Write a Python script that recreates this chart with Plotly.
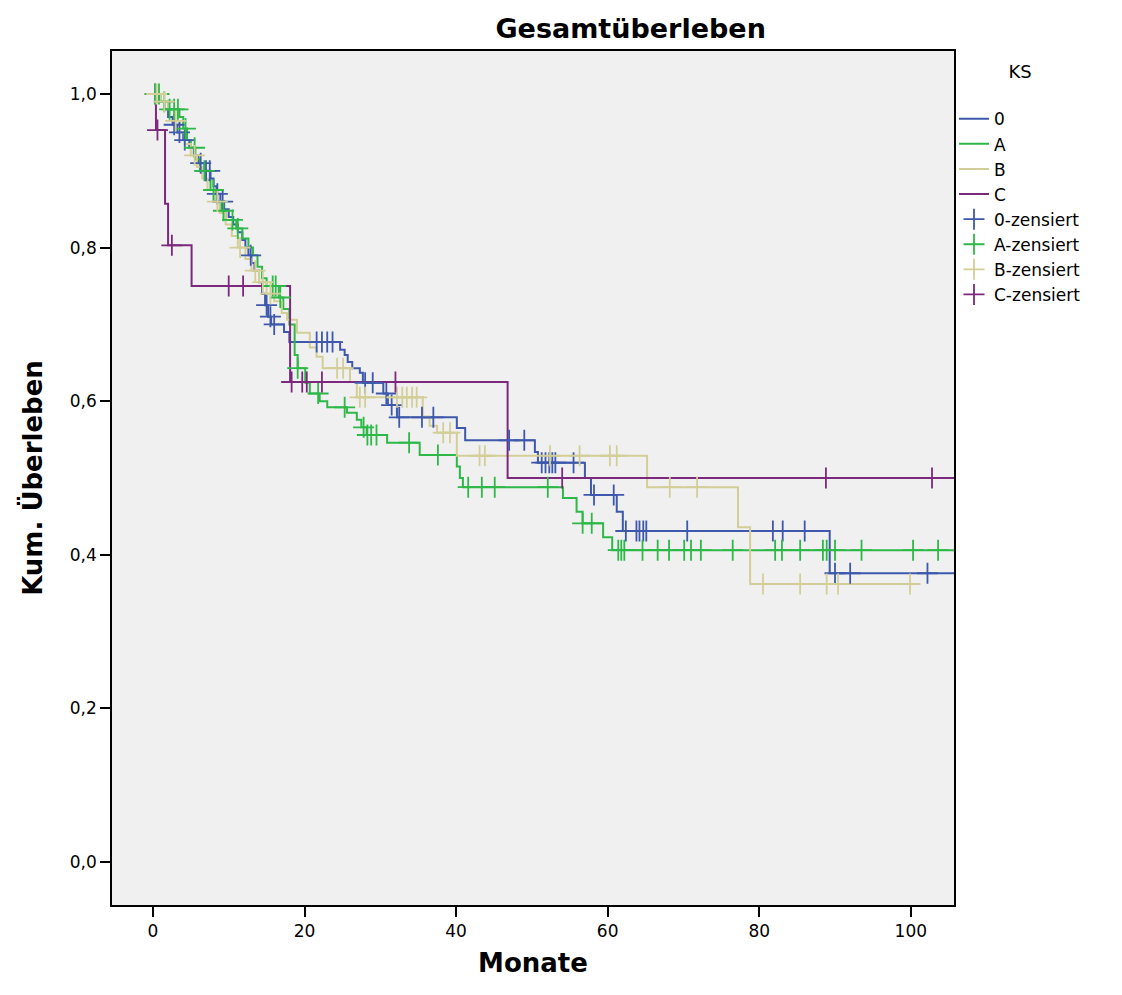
import numpy as np
import plotly.graph_objects as go

# ---- data ----
groups = ["0", "A", "B", "C"]
colors = {"0": "#3E58AC", "A": "#2EB848", "B": "#D3CE97", "C": "#7C287D"}

t_0 = [0, 0.8, 1.5, 2.0, 2.6, 3.2, 4.0, 4.8, 5.4, 6.0, 6.8, 7.6, 8.0, 8.4, 8.9, 9.4, 10.0, 10.6,
       11.2, 11.8, 12.2, 12.6, 13.0, 13.4, 14.0, 14.4, 14.8, 15.2, 15.6, 17.3, 18.0, 24.7, 25.3,
       25.7, 26.3, 27.3, 27.7, 30.4, 31.0, 32.2, 40.1, 41.2, 50.4, 50.8, 57.0, 57.8, 61.2, 62.0,
       89.3, 106]
s_0 = [1.0, 0.99, 0.98, 0.97, 0.96, 0.95, 0.94, 0.93, 0.92, 0.91, 0.90, 0.89, 0.88, 0.87, 0.86,
       0.85, 0.84, 0.83, 0.82, 0.81, 0.80, 0.79, 0.78, 0.77, 0.755, 0.74, 0.725, 0.71, 0.70, 0.69,
       0.677, 0.667, 0.660, 0.651, 0.643, 0.637, 0.624, 0.61, 0.595, 0.579, 0.565, 0.549, 0.534,
       0.520, 0.50, 0.478, 0.456, 0.431, 0.376, 0.376]
c_0 = [0.3, 2.8, 3.5, 4.2, 6.3, 7.0, 7.5, 8.5, 9.2, 12.9, 15.0, 15.5, 16.0, 21.6, 22.3, 23.0, 23.7,
       28.0, 29.0, 30.8, 31.5, 32.5, 35.5, 37.0, 47.0, 49.0, 51.3, 51.8, 52.3, 52.7, 53.1, 55.5,
       58.2, 60.8, 62.4, 63.8, 64.2, 64.7, 65.1, 70.5, 81.8, 83.1, 86.0, 90.0, 92.0, 102.2]

t_A = [0, 1.0, 2.0, 3.5, 4.0, 4.5, 5.0, 5.6, 6.2, 7.0, 7.6, 8.4, 9.0, 9.6, 11.0, 11.8, 12.6, 13.2,
       13.8, 14.4, 15.0, 16.6, 17.2, 18.0, 18.7, 19.1, 20.1, 20.7, 22.0, 23.0, 25.6, 26.9, 27.5,
       28.2, 30.9, 35.2, 40.1, 40.5, 40.9, 54.1, 55.9, 56.7, 59.4, 60.6, 106]
s_A = [1.0, 0.99, 0.98, 0.97, 0.955, 0.94, 0.93, 0.915, 0.90, 0.888, 0.875, 0.86, 0.848, 0.836,
       0.825, 0.812, 0.80, 0.79, 0.775, 0.76, 0.75, 0.735, 0.72, 0.70, 0.66, 0.643, 0.624, 0.61,
       0.60, 0.592, 0.585, 0.576, 0.566, 0.556, 0.546, 0.53, 0.515, 0.50, 0.488, 0.474, 0.456,
       0.441, 0.423, 0.406, 0.406]
c_A = [0.3, 0.8, 1.5, 2.2, 2.8, 3.3, 4.3, 5.5, 6.8, 8.0, 9.3, 10.5, 11.2, 15.8, 16.2, 16.8, 19.1,
       21.8, 25.3, 27.8, 28.3, 28.8, 29.5, 33.8, 37.6, 41.6, 43.4, 45.1, 52.1, 56.7, 57.9, 61.4,
       61.8, 62.2, 64.6, 66.6, 68.1, 70.1, 71.0, 72.3, 76.5, 82.1, 83.0, 85.4, 88.4, 88.9, 90.0,
       93.5, 100.3, 103.6]

t_B = [0, 1.0, 2.0, 2.8, 3.5, 4.2, 5.0, 5.8, 6.5, 7.2, 8.0, 8.8, 9.6, 10.4, 11.2, 12.2, 13.0, 14.0,
       15.0, 16.0, 17.0, 17.7, 19.0, 20.7, 21.6, 22.4, 26.0, 26.9, 35.6, 36.5, 37.5, 40.1, 65.2,
       77.2, 78.8, 99.9]
s_B = [1.0, 0.99, 0.98, 0.965, 0.95, 0.935, 0.92, 0.905, 0.89, 0.875, 0.86, 0.845, 0.83, 0.815,
       0.80, 0.785, 0.77, 0.755, 0.74, 0.73, 0.715, 0.706, 0.689, 0.67, 0.658, 0.643, 0.625, 0.605,
       0.58, 0.568, 0.559, 0.529, 0.488, 0.436, 0.362, 0.362]
c_B = [0.5, 1.5, 3.0, 5.5, 8.5, 11.5, 13.5, 14.5, 15.5, 24.3, 25.1, 27.3, 28.0, 32.2, 32.9, 33.5,
       34.2, 34.8, 38.3, 39.2, 43.1, 43.8, 52.4, 56.3, 60.3, 61.2, 68.2, 71.8, 80.5, 85.4, 88.9,
       90.4, 99.9]

t_C = [0, 0.4, 1.6, 2.0, 5.1, 18.1, 46.8, 106]
s_C = [1.0, 0.953, 0.857, 0.803, 0.75, 0.625, 0.50, 0.50]
c_C = [0.6, 2.5, 10.0, 11.9, 18.3, 19.7, 20.3, 22.3, 32.0, 54.0, 88.8, 102.8]

times = {"0": t_0, "A": t_A, "B": t_B, "C": t_C}
surv = {"0": s_0, "A": s_A, "B": s_B, "C": s_C}
cens = {"0": c_0, "A": c_A, "B": c_B, "C": c_C}

x_ticks = [0, 20, 40, 60, 80, 100]
y_ticks = [0.0, 0.2, 0.4, 0.6, 0.8, 1.0]

FONT = "DejaVu Sans"

fig = go.Figure()

for g in groups:
    fig.add_trace(go.Scatter(
        x=times[g], y=surv[g], mode="lines", line_shape="hv",
        line=dict(color=colors[g], width=2), name=g))

for g in groups:
    t = np.array(times[g])
    s = np.array(surv[g])
    c = np.array(cens[g])
    idx = np.searchsorted(t, c, side="right") - 1
    fig.add_trace(go.Scatter(
        x=c, y=s[idx], mode="markers", name=g + "-zensiert",
        marker=dict(symbol="cross-thin", size=15,
                    line=dict(color=colors[g], width=1.8), color=colors[g])))

fig.update_layout(
    width=1122, height=995,
    margin=dict(l=112, r=168, t=51, b=90),
    paper_bgcolor="white", plot_bgcolor="#F0F0F0",
    separators=", ",
    font=dict(family=FONT, size=15, color="black"),
    title=dict(text="<b>Gesamtüberleben</b>", x=0.616, xref="paper", xanchor="center",
               y=0.971, yref="container", yanchor="middle",
               font=dict(family=FONT, size=27, color="black")),
    legend=dict(title=dict(text="KS<br> ", side="top center",
                           font=dict(size=18, family=FONT)),
                x=1.0, xanchor="left", y=0.996, yanchor="top",
                bgcolor="rgba(0,0,0,0)", font=dict(size=17, family=FONT),
                tracegroupgap=0, itemwidth=30),
    showlegend=True,
)

fig.update_xaxes(range=[-5.4, 105.7], tickvals=x_ticks, ticks="outside", ticklen=10,
                 tickwidth=1.5, tickcolor="black", showgrid=False, zeroline=False,
                 showline=True, linecolor="black", linewidth=1.5, mirror=True,
                 tickfont=dict(size=17, family=FONT),
                 title=dict(text="<b>Monate</b>", font=dict(size=26, family=FONT), standoff=14))
fig.update_yaxes(range=[-0.056, 1.056], tickvals=y_ticks, tickformat=".1f", ticks="outside",
                 ticklen=10, tickwidth=1.5, tickcolor="black", showgrid=False, zeroline=False,
                 showline=True, linecolor="black", linewidth=1.5, mirror=True,
                 tickfont=dict(size=17, family=FONT),
                 title=dict(text="<b>Kum. Überleben</b>", font=dict(size=26, family=FONT), standoff=20))

fig.write_html("out.html")
